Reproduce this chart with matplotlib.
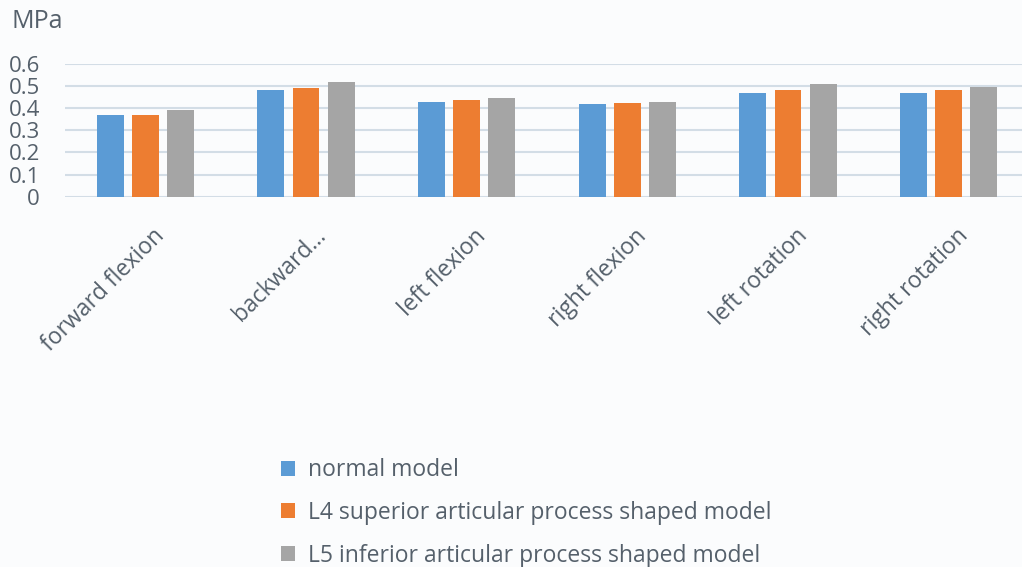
import matplotlib
matplotlib.use("Agg")
import matplotlib.pyplot as plt
from matplotlib.patches import Patch
import matplotlib.transforms as mtransforms
import numpy as np

categories = ["forward flexion", "backward...", "left flexion",
              "right flexion", "left rotation", "right rotation"]
normal_model = [0.371, 0.482, 0.429, 0.417, 0.470, 0.470]
l4_model = [0.371, 0.490, 0.436, 0.425, 0.482, 0.482]
l5_model = [0.394, 0.520, 0.447, 0.429, 0.508, 0.497]
series_names = ["normal model",
                "L4 superior articular process shaped model",
                "L5 inferior articular process shaped model"]
yticks = [0, 0.1, 0.2, 0.3, 0.4, 0.5, 0.6]

colors = ["#5B9BD5", "#ED7D31", "#A5A5A5"]
bg = "#FBFCFD"
text_color = "#55606B"
grid_color = "#D3DDE6"

plt.rcParams["font.family"] = ["Open Sans", "DejaVu Sans"]

fig = plt.figure(figsize=(10.22, 5.67), dpi=100, facecolor=bg)
ax = fig.add_axes([65 / 1022, 1 - 196.7 / 567, 964 / 1022, 132.7 / 567])
ax.set_facecolor(bg)

x = np.arange(len(categories))
offset = 0.218
width = 0.168
for i, (vals, c) in enumerate(zip([normal_model, l4_model, l5_model], colors)):
    ax.bar(x + (i - 1) * offset, vals, width=width, color=c, zorder=3)

ax.set_xlim(-0.5, len(categories) - 0.5)
ax.set_ylim(0, 0.6)
ax.set_yticks(yticks)
ax.set_yticklabels([f"{t:g}" for t in yticks], fontsize=16, color=text_color)
ax.yaxis.grid(True, color=grid_color, linewidth=1.5, zorder=0)
ax.set_axisbelow(True)
for s in ax.spines.values():
    s.set_visible(False)
ax.tick_params(axis="both", length=0)
ax.tick_params(axis="y", pad=18)

ax.set_xticks(x)
ax.set_xticklabels(categories, rotation=45, ha="right", va="center",
                   rotation_mode="anchor", fontsize=16.5, color=text_color)
shift = mtransforms.ScaledTranslation(16 / 100, -31 / 100, fig.dpi_scale_trans)
for lbl in ax.get_xticklabels():
    lbl.set_transform(lbl.get_transform() + shift)

fig.text(11 / 1022, 1 - 22 / 567, "MPa", fontsize=18, color=text_color,
         va="center", ha="left")

handles = [Patch(facecolor=c, edgecolor="none") for c in colors]
fig.legend(handles, series_names, loc="upper left",
           bbox_to_anchor=(272 / 1022, 1 - 449 / 567),
           frameon=False, fontsize=16.5, labelcolor=text_color,
           handlelength=0.62, handleheight=0.62, handletextpad=0.55,
           labelspacing=0.82, borderaxespad=0)

fig.savefig("out.png", dpi=100, facecolor=bg)
